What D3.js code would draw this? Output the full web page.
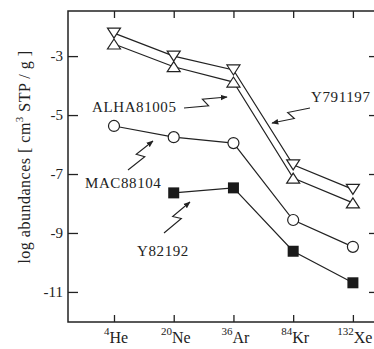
<!DOCTYPE html>
<html>
<head>
<meta charset="utf-8">
<script src="https://cdn.jsdelivr.net/npm/d3@7"></script>
<style>
  body { margin: 0; background: #fff; }
</style>
</head>
<body>
<div id="chart"></div>
<script>
// Set H/W/M
const svgWidth = 374;
const svgHeight = 349;

const margin = { top: 11, right: -1, bottom: 27, left: 68 };

// categories (isotopes)
const isotopes = ["He", "Ne", "Ar", "Kr", "Xe"];
const massNumbers = ["4", "20", "36", "84", "132"];
const yTicks = [-3, -5, -7, -9, -11];

const y791197 = [-2.22, -3.0, -3.47, -6.69, -7.52];
const alha81005 = [-2.59, -3.36, -3.88, -7.14, -7.98];
const mac88104 = [-5.37, -5.75, -5.95, -8.56, -9.47];
const y82192 = [null, -7.64, -7.47, -9.62, -10.69];

const x = d3.scaleLinear()
  .domain([-0.77, 4.37])
  .range([margin.left, svgWidth - margin.right]);

const y = d3.scaleLinear()
  .domain([-12.02, -1.47])
  .range([svgHeight - margin.bottom, margin.top]);

const serif = "'Liberation Serif', 'Times New Roman', Times, serif";
const ink = "#222";

const svg = d3.select("#chart")
  .append("svg")
  .attr("width", svgWidth)
  .attr("height", svgHeight)
  .attr("font-family", serif)
  .attr("fill", ink);

const plotLeft = x.range()[0], plotRight = x.range()[1];
const plotTop = y.range()[1], plotBottom = y.range()[0];

// frame
svg.append("rect")
  .attr("x", plotLeft).attr("y", plotTop)
  .attr("width", plotRight - plotLeft).attr("height", plotBottom - plotTop)
  .attr("fill", "none").attr("stroke", ink).attr("stroke-width", 1.5);

// x ticks bottom + top (inward)
const bottomAxis = d3.axisBottom(x).tickValues(d3.range(5)).tickSize(-7).tickFormat("");
svg.append("g").attr("transform", `translate(0,${plotBottom})`).call(bottomAxis)
  .call(g => g.select(".domain").remove())
  .selectAll("line").attr("stroke", ink).attr("stroke-width", 1.3);
const topAxis = d3.axisTop(x).tickValues(d3.range(5)).tickSize(-7).tickFormat("");
svg.append("g").attr("transform", `translate(0,${plotTop})`).call(topAxis)
  .call(g => g.select(".domain").remove())
  .selectAll("line").attr("stroke", ink).attr("stroke-width", 1.3);

// y ticks left + right (inward)
const leftAxis = d3.axisLeft(y).tickValues(yTicks).tickSize(-10).tickFormat("");
svg.append("g").attr("transform", `translate(${plotLeft},0)`).call(leftAxis)
  .call(g => g.select(".domain").remove())
  .selectAll("line").attr("stroke", ink).attr("stroke-width", 1.3);
const rightAxis = d3.axisRight(y).tickValues(yTicks).tickSize(-6).tickFormat("");
svg.append("g").attr("transform", `translate(${plotRight},0)`).call(rightAxis)
  .call(g => g.select(".domain").remove())
  .selectAll("line").attr("stroke", ink).attr("stroke-width", 1.3);

// y tick labels
svg.selectAll(".ylab")
  .data(yTicks)
  .enter()
  .append("text")
  .attr("x", 63)
  .attr("y", d => y(d))
  .attr("dy", "0.35em")
  .attr("text-anchor", "end")
  .attr("font-size", 15)
  .text(d => d);

// x tick labels with superscript mass numbers
const xl = svg.selectAll(".xlab")
  .data(isotopes)
  .enter()
  .append("text")
  .attr("x", (d, i) => x(i) + 2)
  .attr("y", 343)
  .attr("text-anchor", "middle")
  .attr("font-size", 16);
xl.append("tspan")
  .attr("dy", -8)
  .attr("font-size", 11)
  .text((d, i) => massNumbers[i]);
xl.append("tspan")
  .attr("dy", 8)
  .text(d => d);

// y axis title
const yt = svg.append("text")
  .attr("transform", "translate(30,157) rotate(-90)")
  .attr("text-anchor", "middle")
  .attr("font-size", 16)
  .style("letter-spacing", "0.5px");
yt.append("tspan").text("log abundances  [ cm");
yt.append("tspan").attr("dy", -7).attr("font-size", 11).text("3");
yt.append("tspan").attr("dy", 7).text(" STP / g ]");

// series lines + markers
const line = d3.line()
  .defined(d => d != null)
  .x((d, i) => x(i))
  .y(d => y(d));

function drawLine(values) {
  svg.append("path")
    .datum(values)
    .attr("d", line)
    .attr("fill", "none")
    .attr("stroke", ink)
    .attr("stroke-width", 1.2);
}
[y791197, alha81005, mac88104, y82192].forEach(drawLine);

const pts = v => v.map((d, i) => ({ i, d })).filter(p => p.d != null);

// inverted triangles
svg.selectAll(".tdown")
  .data(pts(y791197))
  .enter()
  .append("path")
  .attr("d", p => `M${x(p.i) - 6.5},${y(p.d) - 5}h13l-6.5,10z`)
  .attr("fill", "#fff").attr("stroke", ink).attr("stroke-width", 1.2);

// triangles
svg.selectAll(".tup")
  .data(pts(alha81005))
  .enter()
  .append("path")
  .attr("d", p => `M${x(p.i) - 6.5},${y(p.d) + 5}h13l-6.5,-10z`)
  .attr("fill", "#fff").attr("stroke", ink).attr("stroke-width", 1.2);

// circles
svg.selectAll(".circ")
  .data(pts(mac88104))
  .enter()
  .append("circle")
  .attr("cx", p => x(p.i))
  .attr("cy", p => y(p.d))
  .attr("r", 5.5)
  .attr("fill", "#fff").attr("stroke", ink).attr("stroke-width", 1.2);

// filled squares
svg.selectAll(".sq")
  .data(pts(y82192))
  .enter()
  .append("rect")
  .attr("x", p => x(p.i) - 5.5)
  .attr("y", p => y(p.d) - 5.5)
  .attr("width", 11).attr("height", 11)
  .attr("fill", "#1a1a1a");

// annotations: labels with lightning arrows
const notes = [
  { label: "ALHA81005", tx: 92, ty: 112, from: [184, 108], to: [227, 97] },
  { label: "Y791197", tx: 311, ty: 102, from: [310, 108], to: [272, 123] },
  { label: "MAC88104", tx: 85, ty: 188, from: [128, 170], to: [153, 141] },
  { label: "Y82192", tx: 137, ty: 256, from: [164, 233], to: [190, 202] }
];

svg.append("defs").append("marker")
  .attr("id", "head")
  .attr("viewBox", "0 0 10 10")
  .attr("refX", 9).attr("refY", 5)
  .attr("markerWidth", 7).attr("markerHeight", 7)
  .attr("markerUnits", "userSpaceOnUse")
  .attr("orient", "auto")
  .append("path")
  .attr("d", "M0,1L10,5L0,9z")
  .attr("fill", ink);

notes.forEach(n => {
  svg.append("text")
    .attr("x", n.tx).attr("y", n.ty)
    .attr("font-size", 15)
    .style("letter-spacing", "0.6px")
    .text(n.label);

  const [x0, y0] = n.from, [x1, y1] = n.to;
  const dx = x1 - x0, dy = y1 - y0;
  const len = Math.hypot(dx, dy);
  const px = -dy / len * 4, py = dx / len * 4;
  const a = [x0 + dx * 0.55 + px, y0 + dy * 0.55 + py];
  const b = [x0 + dx * 0.45 - px, y0 + dy * 0.45 - py];
  svg.append("path")
    .attr("d", `M${x0},${y0}L${a[0]},${a[1]}L${b[0]},${b[1]}L${x1},${y1}`)
    .attr("fill", "none")
    .attr("stroke", ink)
    .attr("stroke-width", 1.1)
    .attr("marker-end", "url(#head)");
});
</script>
</body>
</html>
